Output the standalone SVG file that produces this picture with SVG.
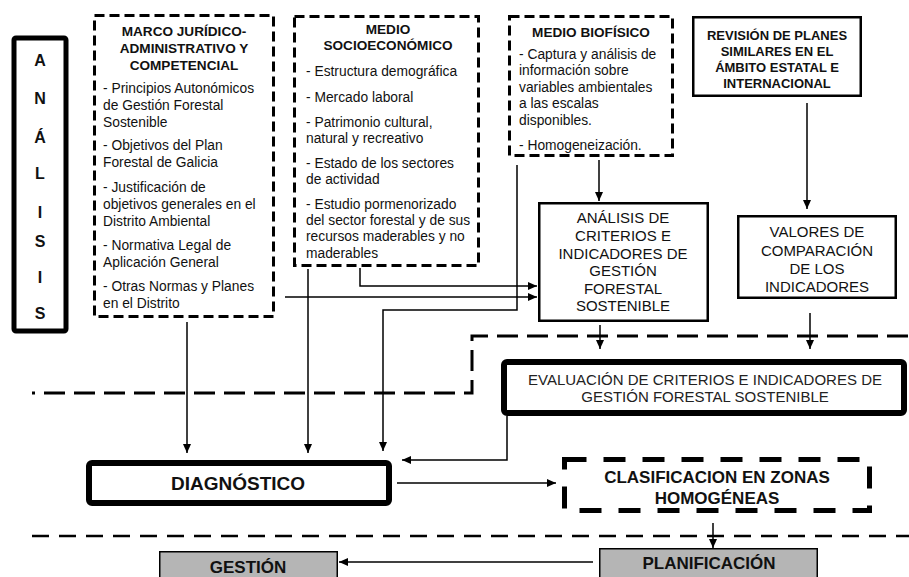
<svg xmlns="http://www.w3.org/2000/svg" width="909" height="577" viewBox="0 0 909 577">
<style>
text{font-family:"Liberation Sans",Arial,sans-serif;fill:#111}
.b{font-weight:bold}
.t{font-size:13.8px}
.tb{font-size:13.6px;font-weight:bold}
.m{font-size:15px;fill:#222}
.big{font-size:17px;font-weight:bold}
.c{text-anchor:middle}
.dbox{fill:#fff;stroke:#000;stroke-width:3;stroke-dasharray:10 5}
.sbox{fill:#fff;stroke:#000;stroke-width:2.5}
.hbox{fill:#fff;stroke:#000;stroke-width:6}
.gbox{fill:#b5b5b5;stroke:#000;stroke-width:1.5}
.con{fill:none;stroke:#000;stroke-width:1.5}
.sep{fill:none;stroke:#000}
</style>
<defs>
<marker id="ah" markerUnits="userSpaceOnUse" markerWidth="10" markerHeight="8" refX="9" refY="4" orient="auto">
<path d="M0,0 L9,4 L0,8 Z" fill="#000"/>
</marker>
</defs>

<g id="separators">
<path class="sep" d="M32,393 H472 V336 H909" stroke-width="3" stroke-dasharray="21 9" stroke-dashoffset="18"/>
<path class="sep" d="M32,536 H909" stroke-width="2.5" stroke-dasharray="17 10"/>
</g>

<g id="analisis">
<rect x="14" y="38" width="52" height="293" rx="2" fill="#fff" stroke="#000" stroke-width="5"/>
<g class="b c" font-size="16">
<text x="40" y="66">A</text>
<text x="40" y="104">N</text>
<text x="40" y="143">Á</text>
<text x="40" y="179">L</text>
<text x="40" y="218">I</text>
<text x="40" y="247">S</text>
<text x="40" y="283">I</text>
<text x="40" y="319">S</text>
</g>
</g>

<g id="marco">
<rect class="dbox" x="94.5" y="15.5" width="179" height="301"/>
<text class="tb c" x="184" y="36">MARCO JURÍDICO-</text>
<text class="tb c" x="184" y="53">ADMINISTRATIVO Y</text>
<text class="tb c" x="184" y="70">COMPETENCIAL</text>
<g class="t">
<text x="103" y="93">- Principios Autonómicos</text>
<text x="103" y="110">de Gestión Forestal</text>
<text x="103" y="127">Sostenible</text>
<text x="103" y="150">- Objetivos del Plan</text>
<text x="103" y="167">Forestal de Galicia</text>
<text x="103" y="192">- Justificación de</text>
<text x="103" y="209">objetivos generales en el</text>
<text x="103" y="226">Distrito Ambiental</text>
<text x="103" y="250">- Normativa Legal de</text>
<text x="103" y="267">Aplicación General</text>
<text x="103" y="291">- Otras Normas y Planes</text>
<text x="103" y="308">en el Distrito</text>
</g>
</g>

<g id="socio">
<rect class="dbox" x="294.5" y="16.5" width="184" height="249"/>
<text class="tb c" x="388" y="34">MEDIO</text>
<text class="tb c" x="388" y="50">SOCIOECONÓMICO</text>
<g class="t">
<text x="306" y="75.5">- Estructura demográfica</text>
<text x="306" y="101.5">- Mercado laboral</text>
<text x="306" y="126.5">- Patrimonio cultural,</text>
<text x="306" y="142.5">natural y recreativo</text>
<text x="306" y="167.5">- Estado de los sectores</text>
<text x="306" y="183.5">de actividad</text>
<text x="306" y="208.5">- Estudio pormenorizado</text>
<text x="306" y="224.5">del sector forestal y de sus</text>
<text x="306" y="240.5">recursos maderables y no</text>
<text x="306" y="257.5">maderables</text>
</g>
</g>

<g id="biofisico">
<rect class="dbox" x="509.5" y="16.5" width="163" height="139"/>
<text class="tb c" x="591" y="37">MEDIO BIOFÍSICO</text>
<g class="t">
<text x="519" y="58.5">- Captura y análisis de</text>
<text x="519" y="75">información sobre</text>
<text x="519" y="91.5">variables ambientales</text>
<text x="519" y="108">a las escalas</text>
<text x="519" y="124.5">disponibles.</text>
<text x="519" y="149.5">- Homogeneización.</text>
</g>
</g>

<g id="revision">
<rect class="sbox" x="693.25" y="17.25" width="167.5" height="78.5"/>
<g class="b c" font-size="13px">
<text x="777" y="39.5">REVISIÓN DE PLANES</text>
<text x="777" y="55.5">SIMILARES EN EL</text>
<text x="777" y="71.5">ÁMBITO ESTATAL E</text>
<text x="777" y="87.5">INTERNACIONAL</text>
</g>
</g>

<g id="analisis-criterios">
<rect class="sbox" x="539.25" y="203.25" width="168.5" height="117.5"/>
<g class="m c">
<text x="623" y="223.4">ANÁLISIS DE</text>
<text x="623" y="241">CRITERIOS E</text>
<text x="623" y="258.6">INDICADORES DE</text>
<text x="623" y="276.2">GESTIÓN</text>
<text x="623" y="293.8">FORESTAL</text>
<text x="623" y="311.4">SOSTENIBLE</text>
</g>
</g>

<g id="valores">
<rect class="sbox" x="738.25" y="216.25" width="157.5" height="81.5"/>
<g class="m c">
<text x="817" y="237.4">VALORES DE</text>
<text x="817" y="255.6">COMPARACIÓN</text>
<text x="817" y="273.8">DE LOS</text>
<text x="817" y="292">INDICADORES</text>
</g>
</g>

<g id="evaluacion">
<rect class="hbox" x="504" y="362" width="400" height="51" rx="3"/>
<text class="m c" x="705" y="385.4">EVALUACIÓN DE CRITERIOS E INDICADORES DE</text>
<text class="m c" x="705" y="402.4">GESTIÓN FORESTAL SOSTENIBLE</text>
</g>

<g id="diagnostico">
<rect class="hbox" x="89" y="463" width="300" height="40" rx="3"/>
<text class="b c" font-size="19px" x="238" y="490">DIAGNÓSTICO</text>
</g>

<g id="clasificacion">
<rect x="564.5" y="459.5" width="305" height="51" fill="#fff" stroke="#000" stroke-width="5" stroke-dasharray="22 17"/>
<text class="big c" x="717" y="483">CLASIFICACION EN ZONAS</text>
<text class="big c" x="717" y="503.5">HOMOGÉNEAS</text>
</g>

<g id="planificacion">
<rect class="gbox" x="599.75" y="548.75" width="217.5" height="40"/>
<text class="big c" x="709" y="569">PLANIFICACIÓN</text>
</g>

<g id="gestion">
<rect class="gbox" x="159.75" y="551.75" width="177.5" height="40"/>
<text class="big c" x="248" y="573">GESTIÓN</text>
</g>

<g id="connectors">
<path class="con" d="M187,322 V453" marker-end="url(#ah)"/>
<path class="con" d="M308,269 V453" marker-end="url(#ah)"/>
<path class="con" d="M517,165 V310 H383 V451" marker-end="url(#ah)"/>
<path class="con" d="M360,268 V286 H537" marker-end="url(#ah)"/>
<path class="con" d="M285,297 H537" marker-end="url(#ah)"/>
<path class="con" d="M599,160 V201" marker-end="url(#ah)"/>
<path class="con" d="M807,103 V209" marker-end="url(#ah)"/>
<path class="con" d="M600,325 V349" marker-end="url(#ah)"/>
<path class="con" d="M810,313 V349" marker-end="url(#ah)"/>
<path class="con" d="M507,416 V460 H402" marker-end="url(#ah)"/>
<path class="con" d="M397,483 H556" marker-end="url(#ah)"/>
<path class="con" d="M713,523 V548" marker-end="url(#ah)"/>
<path class="con" d="M593,562 H339" marker-end="url(#ah)"/>
</g>
</svg>
